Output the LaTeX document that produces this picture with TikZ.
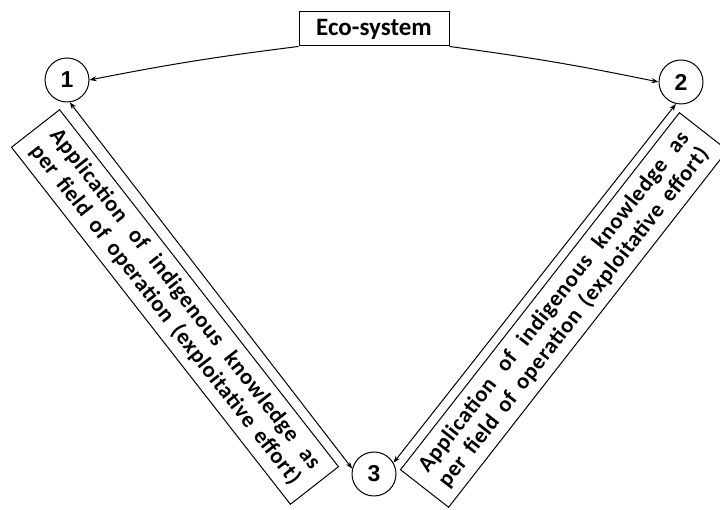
\documentclass[tikz,border=0pt]{standalone}
\usepackage{fontspec}
\setmainfont{Carlito}
\newfontfamily\numfont{Liberation Sans}
\newfontfamily\spacedfont[LetterSpace=3]{Carlito}
\usetikzlibrary{arrows.meta}
\begin{document}
\begin{tikzpicture}[x=1pt,y=1pt,line width=1pt,
  stage/.style={draw,circle,minimum size=44pt,inner sep=0pt,font=\numfont\bfseries\fontsize{23}{23}\selectfont},
  appbox/.style={draw,minimum width=453pt,minimum height=61pt,inner sep=0pt,align=center,font=\spacedfont\bfseries\fontsize{22.5}{25}\selectfont},
  flow/.style={-{Stealth[length=7pt,width=5pt]}},
  twoway/.style={{Stealth[length=7pt,width=5pt]}-{Stealth[length=7pt,width=5pt]}}]
\useasboundingbox (0,0) rectangle (720,510);
\node[draw,minimum width=150pt,minimum height=34pt,font=\bfseries\fontsize{25}{25}\selectfont] (eco) at (374,481) {Eco-system};

\node[stage] (s1) at (67,430) {1};
\node[stage] (s2) at (681,428) {2};
\node[stage] (s3) at (374,36) {3};

% the two explanatory boxes along the sides
\node[appbox,rotate=-52] (appl) at (175,203) {\makebox[425pt][s]{Application of indigenous knowledge as}\\\makebox[425pt][s]{per field of operation (exploitative effort)}};
\node[appbox,rotate=52] (appr) at (564,200) {\makebox[425pt][s]{Application of indigenous knowledge as}\\\makebox[425pt][s]{per field of operation (exploitative effort)}};

\draw[flow] (eco.south west) to[bend right=2] (s1.east);
\draw[flow] (eco.south east) to[bend left=2] (s2.west);
\draw[twoway] (s1.-83) -- (s3.166);
\draw[twoway] (s2.-103) -- (s3.30);
\end{tikzpicture}
\end{document}
